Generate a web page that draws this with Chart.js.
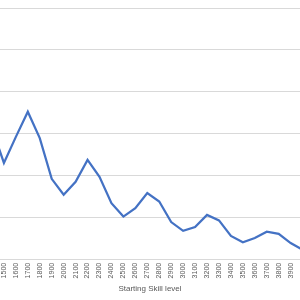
<!DOCTYPE html>
<html>
<head>
<meta charset="utf-8">
<script src="https://cdn.jsdelivr.net/npm/chart.js@4"></script>
<style>
  html, body { margin: 0; padding: 0; background: #fff; overflow: hidden; width: 300px; height: 300px; }
  #wrap { position: absolute; left: -60px; top: 0; }
</style>
</head>
<body>
<div id="wrap"><canvas id="c" width="374" height="300"></canvas></div>
<script>
const skillLevels = ["1400","1500","1600","1700","1800","1900","2000","2100","2200","2300","2400","2500","2600","2700","2800","2900","3000","3100","3200","3300","3400","3500","3600","3700","3800","3900","4000"];
const seriesValues = [3.14,2.31,2.93,3.53,2.90,1.93,1.55,1.86,2.38,1.98,1.35,1.03,1.23,1.59,1.39,0.90,0.69,0.78,1.07,0.94,0.57,0.42,0.52,0.67,0.62,0.40,0.24];
const axisTitle = "Starting Skill level";

new Chart(document.getElementById('c'), {
  type: 'line',
  data: {
    labels: skillLevels,
    datasets: [{
      data: seriesValues,
      borderColor: '#4472C4',
      borderWidth: 2.25,
      pointRadius: 0,
      tension: 0,
      fill: false
    }]
  },
  options: {
    responsive: false,
    devicePixelRatio: 1,
    animation: false,
    layout: { padding: { left: 46, right: 0, top: 8, bottom: 0 } },
    plugins: {
      legend: { display: false },
      tooltip: { enabled: false },
      title: {
        display: true,
        position: 'bottom',
        text: axisTitle,
        color: '#595959',
        font: { family: 'Liberation Sans', size: 8, weight: 'normal' },
        padding: { top: 3, bottom: 6 }
      }
    },
    scales: {
      x: {
        type: 'category',
        offset: true,
        grid: { display: false, drawTicks: false },
        border: { color: '#D9D9D9', width: 1 },
        ticks: {
          autoSkip: false, maxRotation: 90, minRotation: 90,
          color: '#595959', padding: 3,
          font: { family: 'Liberation Sans', size: 7 }
        }
      },
      y: {
        min: 0, max: 6,
        ticks: { display: false, stepSize: 1 },
        border: { display: false },
        grid: { color: '#D9D9D9', drawTicks: false, lineWidth: 1 }
      }
    }
  }
});
</script>
</body>
</html>
